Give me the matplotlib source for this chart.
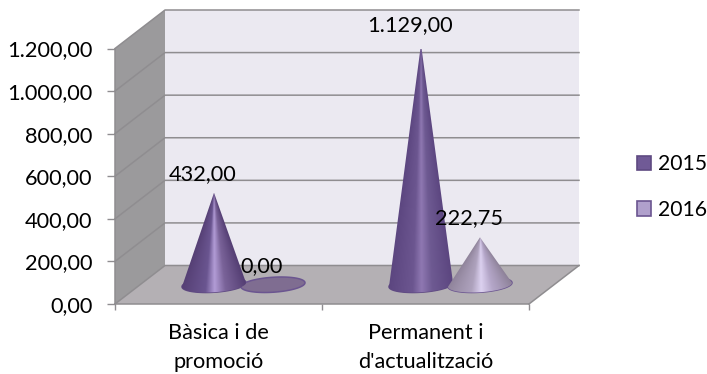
import numpy as np
import matplotlib
matplotlib.use("Agg")
import matplotlib.pyplot as plt
from matplotlib.colors import to_rgb
from matplotlib.patches import Patch, Polygon

categories = ["Bàsica i de\npromoció", "Permanent i\nd'actualització"]
series_names = ["2015", "2016"]
values_2015 = [432.00, 1129.00]
values_2016 = [0.00, 222.75]
y_ticks = [0, 200, 400, 600, 800, 1000, 1200]

def es(v):
    return f"{v:,.2f}".replace(",", "#").replace(".", ",").replace("#", ".")

W, H = 707, 374
plt.rcParams["font.family"] = ["Lato", "DejaVu Sans"]
FS = 15.7
fig = plt.figure(figsize=(W / 100, H / 100), dpi=100)
L, R, T, B = 115, 529, 48.5, 304
ax = fig.add_axes([L / W, 1 - B / H, (R - L) / W, (B - T) / H])
ax.patch.set_visible(False)

px_x = 2 / (R - L)
px_y = 1200 / (B - T)
DX, DY = 50 * px_x, 38.5 * px_y

def P(x, v, d):
    return (x + d * DX, v + d * DY)

GRID = "#8f8d90"
# walls
ax.add_patch(Polygon([P(0, 0, 0), P(0, 1200, 0), P(0, 1200, 1), P(0, 0, 1)],
                     fc="#9b9a9c", ec="none", clip_on=False, zorder=1))
ax.add_patch(Polygon([P(0, 0, 1), P(0, 1200, 1), P(2, 1200, 1), P(2, 0, 1)],
                     fc="#ebe9f1", ec="none", clip_on=False, zorder=1))
ax.add_patch(Polygon([P(0, 0, 0), P(2, 0, 0), P(2, 0, 1), P(0, 0, 1)],
                     fc="#b4b0b4", ec="none", clip_on=False, zorder=1))
for t in y_ticks:
    pts = [P(0, t, 0), P(0, t, 1), P(2, t, 1)]
    ax.plot(*zip(*pts), color=GRID, lw=1.1, clip_on=False, zorder=2)
ax.plot(*zip(P(2, 0, 0), P(2, 0, 1)), color=GRID, lw=1.1, clip_on=False, zorder=2)

# cones
A, Bb, TILT = 32 * px_x, 7.5 * px_y, 2 * px_y
OFFS = [-0.1425, 0.1425]
SHADES = {
    (0, 0): ("#553f74", "#6a5590", "#b29cd6", "#7a6399"),
    (0, 1): ("#5c4680", "#6c5690", "#8f78b2", "#6e5a92"),
    (1, 0): ("#6b5f80", "#7f6d91", "#7f6d91", "#7f6d91"),
    (1, 1): ("#8e8299", "#aea2bd", "#dcd1f0", "#b4a6c8"),
}
EDGES = ["#5f4a82", "#6b5590"]

def shade(stops, u):
    xs = [-1, -0.25, 0.02, 0.35, 1]
    c = [to_rgb(stops[0]), to_rgb(stops[1]), to_rgb(stops[2]), to_rgb(stops[3]), to_rgb(stops[0])]
    return np.stack([np.interp(u, xs, [k[i] for k in c]) for i in range(3)], axis=-1)

def cone(ci, si, val):
    cx, cy = P(ci + 0.5 + OFFS[si], 0, 0.5)
    t = np.linspace(0, 2 * np.pi, 121)
    ex = cx + A * np.cos(t)
    ey = cy + Bb * np.sin(t) + TILT * np.cos(t)
    st = SHADES[(si, ci)]
    ax.add_patch(Polygon(np.c_[ex, ey], fc=tuple(shade(st, 0.9)) if val > 0 else "#7f6d91",
                         ec=EDGES[si], lw=1.1, clip_on=False, zorder=5))
    apex = (cx, cy + val)
    if val > 0:
        tt = np.linspace(np.pi, 2 * np.pi, 81)
        bx = cx + A * np.cos(tt)
        by = cy + Bb * np.sin(tt) + TILT * np.cos(tt)
        outline = Polygon(np.vstack([[apex], np.c_[bx, by]]), transform=ax.transData, fc="none", ec="none")
        ax.add_patch(outline)
        # horizontal gradient, converging towards the apex
        rows, cols = 300, 240
        top, bottom = apex[1], by.min()
        ys = np.linspace(top, bottom, rows)
        xs = np.linspace(cx - A, cx + A, cols)
        X, Y = np.meshgrid(xs, ys)
        frac = np.clip((top - Y) / max(top - cy, 1e-6), 1e-3, None)
        u = np.clip((X - cx) / (A * frac), -1, 1)
        img = shade(st, u)
        im = ax.imshow(img, extent=(cx - A, cx + A, bottom, top), aspect="auto",
                       interpolation="bilinear", zorder=6, clip_on=True)
        im.set_clip_path(outline)
    ax.annotate(es(val), apex, xytext=(-11 * 0.72, 18.8 * 0.72), textcoords="offset points",
                ha="center", va="center", fontsize=FS, color="black",
                annotation_clip=False, zorder=10)

for si, vals in enumerate([values_2015, values_2016]):
    for ci, v in enumerate(vals):
        cone(ci, si, v)

ax.set_xlim(0, 2)
ax.set_ylim(0, 1200)
ax.set_aspect("auto")

# axes
for s in ("top", "right"):
    ax.spines[s].set_visible(False)
for s in ("left", "bottom"):
    ax.spines[s].set_color(GRID)
    ax.spines[s].set_linewidth(1.1)
    ax.spines[s].set_zorder(3)
ax.set_yticks(y_ticks, [es(t) for t in y_ticks], fontsize=FS, color="black")
ax.tick_params(axis="y", length=5.8, width=1.0, color=GRID, pad=10.5)
ax.set_xticks([0, 1, 2], ["", "", ""])
ax.tick_params(axis="x", which="major", length=4.3, width=1.0, color=GRID)
ax.set_xticks([0.5, 1.5], categories, minor=True, fontsize=FS, color="black", linespacing=1.55)
ax.tick_params(axis="x", which="minor", length=0, pad=13.5)

handles = [Patch(fc="#705a96", ec="#5f4a82", lw=1.2, label=series_names[0]),
           Patch(fc="#b0a0cc", ec="#6b5590", lw=1.2, label=series_names[1])]
fig.legend(handles=handles, loc="center left", bbox_to_anchor=(631 / W, 1 - 187 / H),
           frameon=False, fontsize=15.2, handlelength=0.66, handleheight=0.66,
           handletextpad=0.3, labelspacing=1.22, borderpad=0, borderaxespad=0.3)

fig.savefig("out.png", dpi=100, facecolor="white")
